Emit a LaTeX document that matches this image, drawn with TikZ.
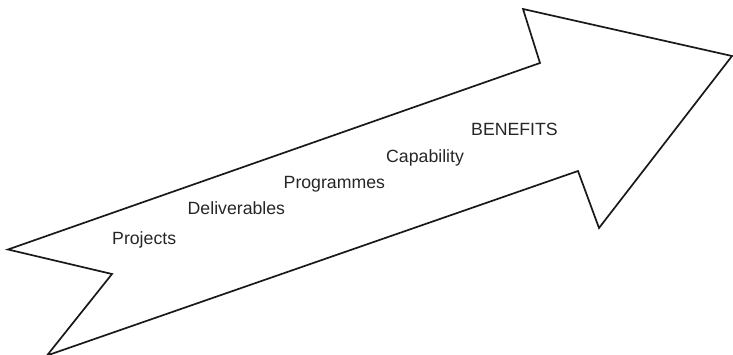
\documentclass[tikz,border=0pt]{standalone}
\usepackage{fontspec}
\setmainfont{Liberation Sans}
\begin{document}
\begin{tikzpicture}[x=1pt,y=-1pt,
  lbl/.style={anchor=base west,inner sep=0pt,font=\fontsize{17.7}{20}\selectfont,text=black!85},
  outline/.style={draw=black!90,line width=1.7pt,line join=miter}]
\useasboundingbox (0,0) rectangle (733,355);
\coordinate (a) at (8,249.5);
\coordinate (b) at (540,63);
\coordinate (c) at (523,9);
\coordinate (d) at (732,56);
\coordinate (e) at (599,228);
\coordinate (f) at (578,171);
\coordinate (g) at (47,355.5);
\coordinate (h) at (112,274);
\draw[outline] (a) -- (b) -- (c) -- (d) -- (e) -- (f) -- (g) -- (h) -- cycle;
\node[lbl] (p1) at (112,245) {Projects};
\node[lbl] (p2) at (187.5,215) {Deliverables};
\node[lbl] (p3) at (283.5,189) {Programmes};
\node[lbl] (p4) at (386,162.5) {Capability};
\node[lbl] (p5) at (471,135.5) {BENEFITS};
\end{tikzpicture}
\end{document}
